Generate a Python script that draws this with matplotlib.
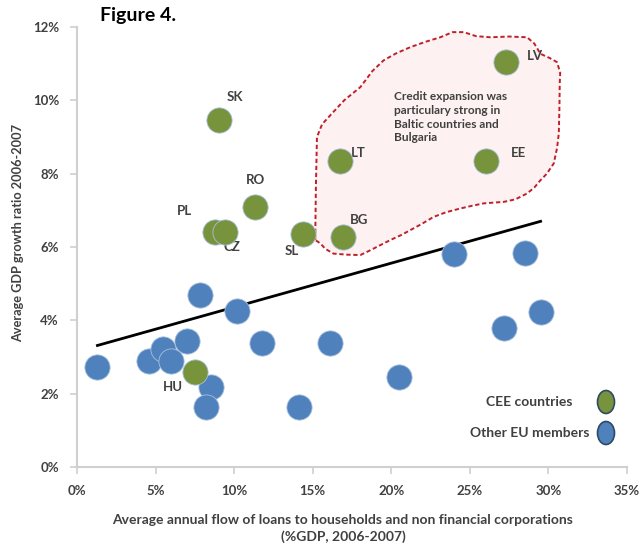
import numpy as np
import matplotlib
matplotlib.use("Agg")
import matplotlib.pyplot as plt
from matplotlib.patches import Polygon, Ellipse

# CEE countries: loan flow (%GDP) vs GDP growth (%)
cee_names = ["SK", "RO", "PL", "CZ", "SL", "LV", "LT", "EE", "BG", "HU"]
cee_loans = [9.05, 11.3, 8.8, 9.4, 14.4, 27.3, 16.75, 26.05, 16.95, 7.5]
cee_growth = [9.46, 7.09, 6.4, 6.4, 6.35, 11.04, 8.34, 8.34, 6.27, 2.6]

# Other EU members
eu_loans = [1.3, 4.6, 5.5, 6.0, 7.0, 7.8, 10.2, 11.8, 8.55, 8.2, 14.1,
            16.1, 20.5, 27.2, 29.5, 24.0, 28.5]
eu_growth = [2.73, 2.89, 3.23, 2.89, 3.44, 4.69, 4.25, 3.38, 2.18, 1.63, 1.63,
             3.38, 2.45, 3.79, 4.22, 5.8, 5.83]

# label offsets (pixels) for each CEE country
label_dx = [16, 1, -31, 7, -12, 29, 18, 32, 16, -22]
label_dy = [23, 27, 21, -15, -17, 6, 8, 8, 17, -15]

# outline of the highlighted Baltic/Bulgaria region (loan %, growth %)
region_x = [15.16, 15.2, 15.27, 15.6, 16.22, 17.0, 18.03, 18.8, 19.51, 20.3, 21.21,
            22.2, 23.12, 23.9, 24.61, 25.4, 26.31, 27.5, 28.64, 29.1, 29.49, 30.1,
            30.55, 30.75, 30.72, 30.7, 30.66, 30.55, 30.34, 29.9, 29.49, 29.1,
            28.64, 27.9, 27.15, 26.5, 25.88, 25.1, 24.39, 23.5, 22.69, 21.9, 21.21,
            20.6, 19.94, 19.3, 18.66, 18.03, 17.2, 16.32, 15.8, 15.48]
region_y = [6.19, 7.6, 9.0, 9.35, 9.64, 10.0, 10.36, 10.8, 11.09, 11.28, 11.45,
            11.6, 11.72, 11.86, 11.86, 11.75, 11.72, 11.74, 11.72, 11.55, 11.27, 11.15,
            11.04, 10.75, 10.46, 9.8, 9.09, 8.7, 8.28, 8.0, 7.82, 7.62,
            7.46, 7.3, 7.23, 7.21, 7.19, 7.12, 7.05, 6.95, 6.82, 6.62, 6.46,
            6.32, 6.19, 6.05, 5.91, 5.78, 5.79, 5.82, 5.95, 6.1]

region_text = "Credit expansion was\nparticulary strong in\nBaltic countries and\nBulgaria"

x_ticks = [0, 5, 10, 15, 20, 25, 30, 35]
y_ticks = [0, 2, 4, 6, 8, 10, 12]

green = "#77933C"
blue = "#4F81BD"
txt = "#404040"
font = "Lato"

plt.rcParams["font.family"] = [font, "DejaVu Sans"]

fig = plt.figure(figsize=(6.39, 5.54), dpi=100)
ax = fig.add_axes([77 / 639, 1 - 467 / 554, 550 / 639, 440 / 554])

ax.set_xlim(0, 35)
ax.set_ylim(0, 12)

# highlighted region
ax.add_patch(Polygon(np.column_stack([region_x, region_y]), closed=True,
                     facecolor="#FDF1F1", edgecolor="#C0202A", linewidth=1.4,
                     linestyle=(0, (2.2, 1.4)), zorder=1))
ax.text(20.15, 10.25, region_text, fontsize=8.6, color=txt, fontweight="bold",
        ha="left", va="top", linespacing=1.3, zorder=2)

# linear trend over all countries
all_x = np.array(cee_loans + eu_loans)
all_y = np.array(cee_growth + eu_growth)
slope, intercept = np.polyfit(all_x, all_y, 1)
tx = np.array([all_x.min(), all_x.max()])
ax.plot(tx, slope * tx + intercept, color="black", lw=2, zorder=3)

ax.scatter(eu_loans, eu_growth, s=330, color=blue, edgecolor="#a9c0dc",
           linewidth=0.6, zorder=4)
ax.scatter(cee_loans, cee_growth, s=330, color=green, edgecolor="#a9c0dc",
           linewidth=0.6, zorder=5)

for name, x, y, dx, dy in zip(cee_names, cee_loans, cee_growth, label_dx, label_dy):
    ax.annotate(name, (x, y), xytext=(dx, dy), textcoords="offset pixels",
                ha="center", va="center", fontsize=9.5, fontweight="bold", color=txt)

# legend
ax.text((573 - 77) / 550, (467 - 402) / 440, "CEE countries", transform=ax.transAxes,
        ha="right", va="center", fontsize=10, fontweight="bold", color=txt)
ax.text((590 - 77) / 550, (467 - 433) / 440, "Other EU members", transform=ax.transAxes,
        ha="right", va="center", fontsize=10, fontweight="bold", color=txt)
for yy, col in [(402, green), (433, blue)]:
    ax.add_patch(Ellipse(((606 - 77) / 550, (467 - yy) / 440), 17 / 550, 23 / 440,
                         transform=ax.transAxes, facecolor=col, edgecolor="#2f4a66",
                         lw=1.2, clip_on=False))

for side in ["top", "right"]:
    ax.spines[side].set_visible(False)
for side in ["left", "bottom"]:
    ax.spines[side].set_color("#D0D0D0")
    ax.spines[side].set_linewidth(1.5)

ax.set_xticks(x_ticks)
ax.set_xticklabels([f"{t}%" for t in x_ticks])
ax.set_yticks(y_ticks)
ax.set_yticklabels([f"{t}%" for t in y_ticks])
ax.tick_params(axis="both", colors="#D0D0D0", labelcolor=txt, labelsize=9.5,
               length=5, width=1.2, direction="out", pad=8)
for lab in ax.get_xticklabels() + ax.get_yticklabels():
    lab.set_fontweight("bold")

ax.set_xlabel("Average annual flow of loans to households and non financial corporations\n(%GDP, 2006-2007)",
              fontsize=10, fontweight="bold", color=txt, linespacing=1.4)
ax.xaxis.set_label_coords((343 - 77) / 550, (467 - 514) / 440)
ax.set_ylabel("Average GDP growth ratio 2006-2007", fontsize=9.2,
              fontweight="bold", color=txt)
ax.yaxis.set_label_coords((24 - 77) / 550, (467 - 233) / 440)

fig.text(100 / 639, 1 - 15 / 554, "Figure 4.", fontsize=14, fontweight="bold",
         color="black", ha="left", va="center")

fig.savefig("out.png", dpi=100)
